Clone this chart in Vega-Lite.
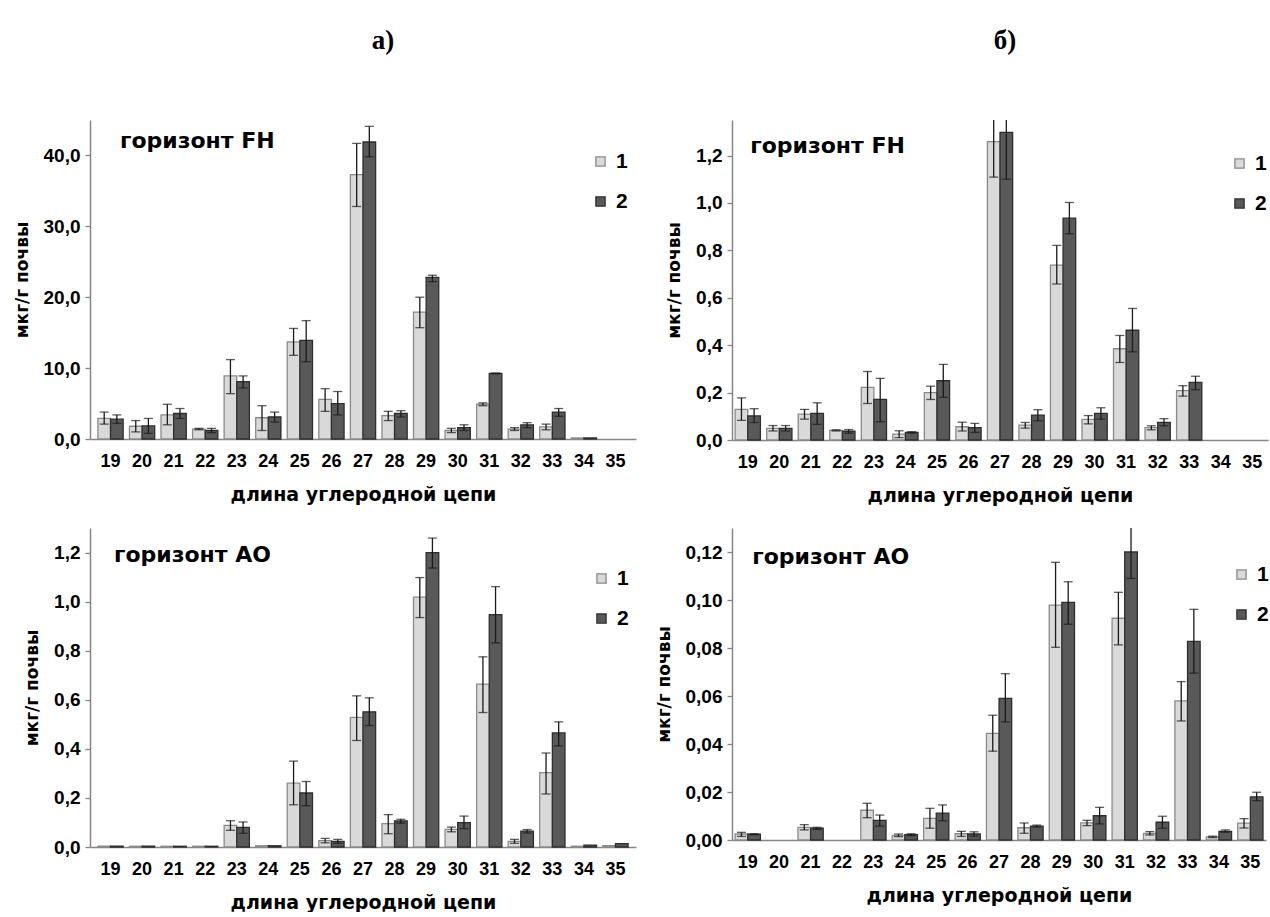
{
  "$schema": "https://vega.github.io/schema/vega-lite/v6.json",
  "background": "white",
  "padding": {"left": 13, "top": 27, "right": 0, "bottom": 0},
  "datasets": {
    "fhA": [
      {"c":19,"g":"1","v":2.9,"lo":2.1,"hi":3.8},{"c":19,"g":"2","v":2.8,"lo":2.2,"hi":3.4},
      {"c":20,"g":"1","v":1.8,"lo":1.0,"hi":2.6},{"c":20,"g":"2","v":1.85,"lo":0.8,"hi":2.9},
      {"c":21,"g":"1","v":3.4,"lo":2.0,"hi":4.9},{"c":21,"g":"2","v":3.6,"lo":2.9,"hi":4.3},
      {"c":22,"g":"1","v":1.4,"lo":1.3,"hi":1.5},{"c":22,"g":"2","v":1.2,"lo":0.9,"hi":1.5},
      {"c":23,"g":"1","v":8.9,"lo":6.4,"hi":11.2},{"c":23,"g":"2","v":8.1,"lo":7.2,"hi":8.9},
      {"c":24,"g":"1","v":3.0,"lo":1.2,"hi":4.7},{"c":24,"g":"2","v":3.1,"lo":2.4,"hi":3.8},
      {"c":25,"g":"1","v":13.7,"lo":11.8,"hi":15.6},{"c":25,"g":"2","v":13.9,"lo":10.9,"hi":16.7},
      {"c":26,"g":"1","v":5.6,"lo":3.9,"hi":7.1},{"c":26,"g":"2","v":5.0,"lo":3.4,"hi":6.7},
      {"c":27,"g":"1","v":37.3,"lo":32.8,"hi":41.7},{"c":27,"g":"2","v":41.9,"lo":39.8,"hi":44.1},
      {"c":28,"g":"1","v":3.3,"lo":2.6,"hi":3.9},{"c":28,"g":"2","v":3.6,"lo":3.1,"hi":4.0},
      {"c":29,"g":"1","v":17.9,"lo":15.7,"hi":20.0},{"c":29,"g":"2","v":22.8,"lo":22.2,"hi":23.1},
      {"c":30,"g":"1","v":1.2,"lo":0.9,"hi":1.5},{"c":30,"g":"2","v":1.6,"lo":1.2,"hi":2.0},
      {"c":31,"g":"1","v":4.9,"lo":4.7,"hi":5.1},{"c":31,"g":"2","v":9.25,"lo":9.2,"hi":9.3},
      {"c":32,"g":"1","v":1.4,"lo":1.2,"hi":1.6},{"c":32,"g":"2","v":2.0,"lo":1.6,"hi":2.3},
      {"c":33,"g":"1","v":1.7,"lo":1.3,"hi":2.1},{"c":33,"g":"2","v":3.8,"lo":3.2,"hi":4.3},
      {"c":34,"g":"1","v":0.15},{"c":34,"g":"2","v":0.15}
    ],
    "fhB": [
      {"c":19,"g":"1","v":0.129,"lo":0.083,"hi":0.178},{"c":19,"g":"2","v":0.102,"lo":0.074,"hi":0.132},
      {"c":20,"g":"1","v":0.049,"lo":0.038,"hi":0.061},{"c":20,"g":"2","v":0.049,"lo":0.038,"hi":0.061},
      {"c":21,"g":"1","v":0.109,"lo":0.088,"hi":0.129},{"c":21,"g":"2","v":0.112,"lo":0.066,"hi":0.157},
      {"c":22,"g":"1","v":0.041,"lo":0.038,"hi":0.043},{"c":22,"g":"2","v":0.037,"lo":0.029,"hi":0.044},
      {"c":23,"g":"1","v":0.222,"lo":0.154,"hi":0.289},{"c":23,"g":"2","v":0.171,"lo":0.077,"hi":0.26},
      {"c":24,"g":"1","v":0.025,"lo":0.010,"hi":0.039},{"c":24,"g":"2","v":0.032,"lo":0.029,"hi":0.035},
      {"c":25,"g":"1","v":0.2,"lo":0.171,"hi":0.227},{"c":25,"g":"2","v":0.25,"lo":0.18,"hi":0.319},
      {"c":26,"g":"1","v":0.056,"lo":0.038,"hi":0.075},{"c":26,"g":"2","v":0.052,"lo":0.032,"hi":0.07},
      {"c":27,"g":"1","v":1.259,"lo":1.109,"hi":1.41},{"c":27,"g":"2","v":1.298,"lo":1.10,"hi":1.496},
      {"c":28,"g":"1","v":0.063,"lo":0.05,"hi":0.074},{"c":28,"g":"2","v":0.105,"lo":0.081,"hi":0.128},
      {"c":29,"g":"1","v":0.738,"lo":0.658,"hi":0.821},{"c":29,"g":"2","v":0.936,"lo":0.87,"hi":1.002},
      {"c":30,"g":"1","v":0.087,"lo":0.068,"hi":0.103},{"c":30,"g":"2","v":0.112,"lo":0.088,"hi":0.136},
      {"c":31,"g":"1","v":0.385,"lo":0.327,"hi":0.441},{"c":31,"g":"2","v":0.463,"lo":0.372,"hi":0.555},
      {"c":32,"g":"1","v":0.052,"lo":0.043,"hi":0.06},{"c":32,"g":"2","v":0.074,"lo":0.06,"hi":0.09},
      {"c":33,"g":"1","v":0.208,"lo":0.185,"hi":0.229},{"c":33,"g":"2","v":0.243,"lo":0.212,"hi":0.269}
    ],
    "aoA": [
      {"c":19,"g":"1","v":0.003},{"c":19,"g":"2","v":0.003},
      {"c":20,"g":"1","v":0.003},{"c":20,"g":"2","v":0.003},
      {"c":21,"g":"1","v":0.003},{"c":21,"g":"2","v":0.003},
      {"c":22,"g":"1","v":0.003},{"c":22,"g":"2","v":0.003},
      {"c":23,"g":"1","v":0.088,"lo":0.068,"hi":0.107},{"c":23,"g":"2","v":0.08,"lo":0.056,"hi":0.102},
      {"c":24,"g":"1","v":0.005},{"c":24,"g":"2","v":0.005},
      {"c":25,"g":"1","v":0.26,"lo":0.172,"hi":0.35},{"c":25,"g":"2","v":0.22,"lo":0.168,"hi":0.267},
      {"c":26,"g":"1","v":0.026,"lo":0.017,"hi":0.035},{"c":26,"g":"2","v":0.023,"lo":0.015,"hi":0.031},
      {"c":27,"g":"1","v":0.528,"lo":0.434,"hi":0.616},{"c":27,"g":"2","v":0.551,"lo":0.495,"hi":0.608},
      {"c":28,"g":"1","v":0.095,"lo":0.054,"hi":0.132},{"c":28,"g":"2","v":0.106,"lo":0.097,"hi":0.113},
      {"c":29,"g":"1","v":1.018,"lo":0.935,"hi":1.098},{"c":29,"g":"2","v":1.2,"lo":1.137,"hi":1.259},
      {"c":30,"g":"1","v":0.072,"lo":0.062,"hi":0.081},{"c":30,"g":"2","v":0.099,"lo":0.075,"hi":0.126},
      {"c":31,"g":"1","v":0.664,"lo":0.548,"hi":0.775},{"c":31,"g":"2","v":0.947,"lo":0.832,"hi":1.061},
      {"c":32,"g":"1","v":0.023,"lo":0.015,"hi":0.031},{"c":32,"g":"2","v":0.065,"lo":0.057,"hi":0.071},
      {"c":33,"g":"1","v":0.303,"lo":0.216,"hi":0.383},{"c":33,"g":"2","v":0.465,"lo":0.412,"hi":0.51},
      {"c":34,"g":"1","v":0.003},{"c":34,"g":"2","v":0.008},
      {"c":35,"g":"1","v":0.006},{"c":35,"g":"2","v":0.014}
    ],
    "aoB": [
      {"c":19,"g":"1","v":0.0025,"lo":0.0015,"hi":0.0032},{"c":19,"g":"2","v":0.0024,"lo":0.0022,"hi":0.0026},
      {"c":21,"g":"1","v":0.0053,"lo":0.0042,"hi":0.0064},{"c":21,"g":"2","v":0.0049,"lo":0.0044,"hi":0.0053},
      {"c":23,"g":"1","v":0.0124,"lo":0.0093,"hi":0.0153},{"c":23,"g":"2","v":0.0082,"lo":0.0058,"hi":0.0104},
      {"c":24,"g":"1","v":0.0019,"lo":0.0014,"hi":0.0025},{"c":24,"g":"2","v":0.0022,"lo":0.0018,"hi":0.0026},
      {"c":25,"g":"1","v":0.009,"lo":0.0049,"hi":0.0132},{"c":25,"g":"2","v":0.0112,"lo":0.008,"hi":0.0146},
      {"c":26,"g":"1","v":0.0026,"lo":0.0015,"hi":0.0036},{"c":26,"g":"2","v":0.0025,"lo":0.0016,"hi":0.0034},
      {"c":27,"g":"1","v":0.0444,"lo":0.037,"hi":0.052},{"c":27,"g":"2","v":0.059,"lo":0.0492,"hi":0.0693},
      {"c":28,"g":"1","v":0.0051,"lo":0.0028,"hi":0.0071},{"c":28,"g":"2","v":0.0058,"lo":0.0054,"hi":0.0062},
      {"c":29,"g":"1","v":0.0979,"lo":0.0803,"hi":0.1157},{"c":29,"g":"2","v":0.099,"lo":0.0899,"hi":0.1076},
      {"c":30,"g":"1","v":0.0071,"lo":0.006,"hi":0.0082},{"c":30,"g":"2","v":0.0101,"lo":0.0067,"hi":0.0136},
      {"c":31,"g":"1","v":0.0924,"lo":0.0813,"hi":0.1032},{"c":31,"g":"2","v":0.12,"lo":0.109,"hi":0.131},
      {"c":32,"g":"1","v":0.0028,"lo":0.0021,"hi":0.0035},{"c":32,"g":"2","v":0.0074,"lo":0.0049,"hi":0.0099},
      {"c":33,"g":"1","v":0.058,"lo":0.0496,"hi":0.066},{"c":33,"g":"2","v":0.0828,"lo":0.0695,"hi":0.0961},
      {"c":34,"g":"1","v":0.0013,"lo":0.001,"hi":0.0016},{"c":34,"g":"2","v":0.0036,"lo":0.0032,"hi":0.0042},
      {"c":35,"g":"1","v":0.007,"lo":0.005,"hi":0.0089},{"c":35,"g":"2","v":0.018,"lo":0.0164,"hi":0.0199}
    ]
  },
  "columns": 2,
  "align": "each",
  "spacing": {"row": 23, "column": 19},
  "resolve": {
    "scale": {"x": "independent", "y": "independent", "fill": "independent", "stroke": "independent"},
    "legend": {"fill": "independent", "stroke": "independent"}
  },
  "concat": [
    {
      "width": 546, "height": 319,
      "title": {"text": "а)", "offset": 65, "dx": 20},
      "layer": [
        {"data": {"name": "fhA"}, "mark": {"type": "bar", "strokeWidth": 1.3},
         "encoding": {
           "x": {"field": "c", "type": "ordinal", "scale": {"domain": [19,20,21,22,23,24,25,26,27,28,29,30,31,32,33,34,35], "paddingInner": 0.2, "paddingOuter": 0.25}, "axis": {"title": "длина углеродной цепи"}},
           "xOffset": {"field": "g", "type": "nominal", "scale": {"domain": ["1","2"]}},
           "y": {"field": "v", "type": "quantitative", "scale": {"domain": [0, 45], "nice": false}, "axis": {"title": "мкг/г почвы", "values": [0,10,20,30,40], "labelExpr": "replace(format(datum.value, '.1f'), '.', ',')"}},
           "fill": {"field": "g", "type": "nominal", "scale": {"domain": ["1","2"], "range": ["#d9d9d9", "#595959"]}, "legend": {"legendX": 500, "legendY": 31}},
           "stroke": {"field": "g", "type": "nominal", "scale": {"domain": ["1","2"], "range": ["#8a8a8a", "#2e2e2e"]}, "legend": {"legendX": 500, "legendY": 31}}
         }},
        {"data": {"name": "fhA"}, "mark": {"type": "rule", "color": "#1a1a1a", "strokeWidth": 1.3, "clip": true},
         "encoding": {
           "x": {"field": "c", "type": "ordinal"},
           "xOffset": {"field": "g", "type": "nominal"},
           "y": {"field": "lo", "type": "quantitative"},
           "y2": {"field": "hi"}
         }},
        {"data": {"name": "fhA"}, "mark": {"type": "tick", "color": "#1a1a1a", "size": 9, "thickness": 1.3, "clip": true},
         "encoding": {
           "x": {"field": "c", "type": "ordinal"},
           "xOffset": {"field": "g", "type": "nominal"},
           "y": {"field": "lo", "type": "quantitative"}
         }},
        {"data": {"name": "fhA"}, "mark": {"type": "tick", "color": "#1a1a1a", "size": 9, "thickness": 1.3, "clip": true},
         "encoding": {
           "x": {"field": "c", "type": "ordinal"},
           "xOffset": {"field": "g", "type": "nominal"},
           "y": {"field": "hi", "type": "quantitative"}
         }},
        {"data": {"values": [{"t": "горизонт FH"}]},
         "mark": {"type": "text", "align": "left", "baseline": "middle", "font": "DejaVu Sans", "fontSize": 22, "fontWeight": "bold", "color": "#000", "dx": 22},
         "encoding": {
           "x": {"datum": 19, "type": "ordinal", "bandPosition": 0},
           "y": {"datum": 42, "type": "quantitative"},
           "text": {"field": "t"}
         }}
      ]
    },
    {
      "width": 536, "height": 320,
      "title": {"text": "б)", "offset": 65, "dx": 5},
      "layer": [
        {"data": {"name": "fhB"}, "mark": {"type": "bar", "strokeWidth": 1.3},
         "encoding": {
           "x": {"field": "c", "type": "ordinal", "scale": {"domain": [19,20,21,22,23,24,25,26,27,28,29,30,31,32,33,34,35], "paddingInner": 0.2, "paddingOuter": 0.1}, "axis": {"title": "длина углеродной цепи"}},
           "xOffset": {"field": "g", "type": "nominal", "scale": {"domain": ["1","2"]}},
           "y": {"field": "v", "type": "quantitative", "scale": {"domain": [0, 1.35], "nice": false}, "axis": {"title": "мкг/г почвы", "values": [0,0.2,0.4,0.6,0.8,1.0,1.2], "labelExpr": "replace(format(datum.value, '.1f'), '.', ',')"}},
           "fill": {"field": "g", "type": "nominal", "scale": {"domain": ["1","2"], "range": ["#d9d9d9", "#595959"]}, "legend": {"legendX": 497, "legendY": 33}},
           "stroke": {"field": "g", "type": "nominal", "scale": {"domain": ["1","2"], "range": ["#8a8a8a", "#2e2e2e"]}, "legend": {"legendX": 497, "legendY": 33}}
         }},
        {"data": {"name": "fhB"}, "mark": {"type": "rule", "color": "#1a1a1a", "strokeWidth": 1.3, "clip": true},
         "encoding": {
           "x": {"field": "c", "type": "ordinal"},
           "xOffset": {"field": "g", "type": "nominal"},
           "y": {"field": "lo", "type": "quantitative"},
           "y2": {"field": "hi"}
         }},
        {"data": {"name": "fhB"}, "mark": {"type": "tick", "color": "#1a1a1a", "size": 9, "thickness": 1.3, "clip": true},
         "encoding": {
           "x": {"field": "c", "type": "ordinal"},
           "xOffset": {"field": "g", "type": "nominal"},
           "y": {"field": "lo", "type": "quantitative"}
         }},
        {"data": {"name": "fhB"}, "mark": {"type": "tick", "color": "#1a1a1a", "size": 9, "thickness": 1.3, "clip": true},
         "encoding": {
           "x": {"field": "c", "type": "ordinal"},
           "xOffset": {"field": "g", "type": "nominal"},
           "y": {"field": "hi", "type": "quantitative"}
         }},
        {"data": {"values": [{"t": "горизонт FH"}]},
         "mark": {"type": "text", "align": "left", "baseline": "middle", "font": "DejaVu Sans", "fontSize": 22, "fontWeight": "bold", "color": "#000", "dx": 15},
         "encoding": {
           "x": {"datum": 19, "type": "ordinal", "bandPosition": 0},
           "y": {"datum": 1.24, "type": "quantitative"},
           "text": {"field": "t"}
         }}
      ]
    },
    {
      "width": 546, "height": 319,
      "layer": [
        {"data": {"name": "aoA"}, "mark": {"type": "bar", "strokeWidth": 1.3},
         "encoding": {
           "x": {"field": "c", "type": "ordinal", "scale": {"domain": [19,20,21,22,23,24,25,26,27,28,29,30,31,32,33,34,35], "paddingInner": 0.2, "paddingOuter": 0.25}, "axis": {"title": "длина углеродной цепи"}},
           "xOffset": {"field": "g", "type": "nominal", "scale": {"domain": ["1","2"]}},
           "y": {"field": "v", "type": "quantitative", "scale": {"domain": [0, 1.3], "nice": false}, "axis": {"title": "мкг/г почвы", "values": [0,0.2,0.4,0.6,0.8,1.0,1.2], "labelExpr": "replace(format(datum.value, '.1f'), '.', ',')"}},
           "fill": {"field": "g", "type": "nominal", "scale": {"domain": ["1","2"], "range": ["#d9d9d9", "#595959"]}, "legend": {"legendX": 501, "legendY": 40}},
           "stroke": {"field": "g", "type": "nominal", "scale": {"domain": ["1","2"], "range": ["#8a8a8a", "#2e2e2e"]}, "legend": {"legendX": 501, "legendY": 40}}
         }},
        {"data": {"name": "aoA"}, "mark": {"type": "rule", "color": "#1a1a1a", "strokeWidth": 1.3, "clip": true},
         "encoding": {
           "x": {"field": "c", "type": "ordinal"},
           "xOffset": {"field": "g", "type": "nominal"},
           "y": {"field": "lo", "type": "quantitative"},
           "y2": {"field": "hi"}
         }},
        {"data": {"name": "aoA"}, "mark": {"type": "tick", "color": "#1a1a1a", "size": 9, "thickness": 1.3, "clip": true},
         "encoding": {
           "x": {"field": "c", "type": "ordinal"},
           "xOffset": {"field": "g", "type": "nominal"},
           "y": {"field": "lo", "type": "quantitative"}
         }},
        {"data": {"name": "aoA"}, "mark": {"type": "tick", "color": "#1a1a1a", "size": 9, "thickness": 1.3, "clip": true},
         "encoding": {
           "x": {"field": "c", "type": "ordinal"},
           "xOffset": {"field": "g", "type": "nominal"},
           "y": {"field": "hi", "type": "quantitative"}
         }},
        {"data": {"values": [{"t": "горизонт АО"}]},
         "mark": {"type": "text", "align": "left", "baseline": "middle", "font": "DejaVu Sans", "fontSize": 22, "fontWeight": "bold", "color": "#000", "dx": 16},
         "encoding": {
           "x": {"datum": 19, "type": "ordinal", "bandPosition": 0},
           "y": {"datum": 1.19, "type": "quantitative"},
           "text": {"field": "t"}
         }}
      ]
    },
    {
      "width": 534, "height": 312,
      "layer": [
        {"data": {"name": "aoB"}, "mark": {"type": "bar", "strokeWidth": 1.3},
         "encoding": {
           "x": {"field": "c", "type": "ordinal", "scale": {"domain": [19,20,21,22,23,24,25,26,27,28,29,30,31,32,33,34,35], "paddingInner": 0.2, "paddingOuter": 0.1}, "axis": {"title": "длина углеродной цепи"}},
           "xOffset": {"field": "g", "type": "nominal", "scale": {"domain": ["1","2"]}},
           "y": {"field": "v", "type": "quantitative", "scale": {"domain": [0, 0.13], "nice": false}, "axis": {"title": "мкг/г почвы", "values": [0,0.02,0.04,0.06,0.08,0.1,0.12], "labelExpr": "replace(format(datum.value, '.2f'), '.', ',')"}},
           "fill": {"field": "g", "type": "nominal", "scale": {"domain": ["1","2"], "range": ["#d9d9d9", "#595959"]}, "legend": {"legendX": 499, "legendY": 36}},
           "stroke": {"field": "g", "type": "nominal", "scale": {"domain": ["1","2"], "range": ["#8a8a8a", "#2e2e2e"]}, "legend": {"legendX": 499, "legendY": 36}}
         }},
        {"data": {"name": "aoB"}, "mark": {"type": "rule", "color": "#1a1a1a", "strokeWidth": 1.3, "clip": true},
         "encoding": {
           "x": {"field": "c", "type": "ordinal"},
           "xOffset": {"field": "g", "type": "nominal"},
           "y": {"field": "lo", "type": "quantitative"},
           "y2": {"field": "hi"}
         }},
        {"data": {"name": "aoB"}, "mark": {"type": "tick", "color": "#1a1a1a", "size": 9, "thickness": 1.3, "clip": true},
         "encoding": {
           "x": {"field": "c", "type": "ordinal"},
           "xOffset": {"field": "g", "type": "nominal"},
           "y": {"field": "lo", "type": "quantitative"}
         }},
        {"data": {"name": "aoB"}, "mark": {"type": "tick", "color": "#1a1a1a", "size": 9, "thickness": 1.3, "clip": true},
         "encoding": {
           "x": {"field": "c", "type": "ordinal"},
           "xOffset": {"field": "g", "type": "nominal"},
           "y": {"field": "hi", "type": "quantitative"}
         }},
        {"data": {"values": [{"t": "горизонт АО"}]},
         "mark": {"type": "text", "align": "left", "baseline": "middle", "font": "DejaVu Sans", "fontSize": 22, "fontWeight": "bold", "color": "#000", "dx": 17},
         "encoding": {
           "x": {"datum": 19, "type": "ordinal", "bandPosition": 0},
           "y": {"datum": 0.118, "type": "quantitative"},
           "text": {"field": "t"}
         }}
      ]
    }
  ],
  "config": {
    "view": {"stroke": null},
    "font": "Liberation Sans",
    "title": {"font": "Liberation Serif", "fontSize": 27, "fontWeight": "bold", "color": "#000", "anchor": "middle"},
    "axis": {"grid": false, "domainColor": "#868686", "domainWidth": 1.5, "labelFont": "Liberation Sans", "labelFontWeight": "bold", "labelColor": "#000", "titleFont": "DejaVu Sans", "titleFontWeight": "bold", "titleColor": "#000"},
    "axisX": {"ticks": false, "labelAngle": 0, "labelFontSize": 18, "labelPadding": 13, "titleFontSize": 19, "titlePadding": 15},
    "axisY": {"tickColor": "#868686", "tickSize": 5, "tickWidth": 1.3, "labelFontSize": 19, "labelPadding": 5, "titleFontSize": 17, "titlePadding": 12},
    "legend": {"orient": "none", "title": null, "symbolType": "square", "symbolSize": 85, "symbolStrokeWidth": 1.3, "labelFont": "Liberation Sans", "labelFontSize": 21, "labelFontWeight": "bold", "labelColor": "#000", "rowPadding": 18, "labelOffset": 5, "padding": 0}
  }
}
